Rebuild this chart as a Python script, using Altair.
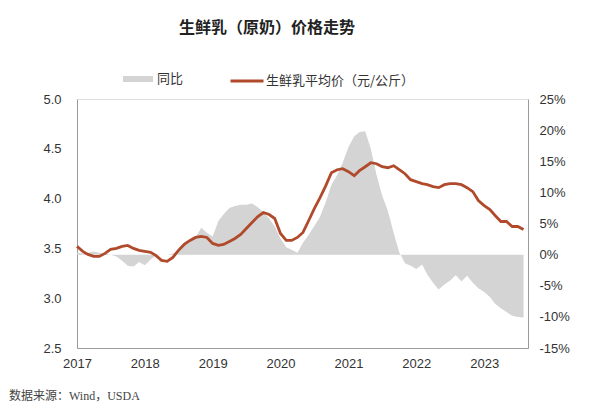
import altair as alt
import pandas as pd

title_text = "生鲜乳（原奶）价格走势"
source_text = "数据来源：Wind，USDA"
yoy_name = "同比"
price_name = "生鲜乳平均价（元/公斤）"

start_month = "2017-01-01"
n_months = 80

# 生鲜乳平均价（元/公斤），monthly from Jan 2017
price = [3.52, 3.47, 3.44, 3.42, 3.42, 3.45, 3.49, 3.50, 3.52, 3.53, 3.50, 3.48,
         3.47, 3.46, 3.43, 3.38, 3.37, 3.41, 3.48, 3.54, 3.58, 3.61, 3.62, 3.61,
         3.55, 3.53, 3.54, 3.57, 3.60, 3.64, 3.70, 3.76, 3.82, 3.86, 3.84, 3.80,
         3.65, 3.58, 3.58, 3.61, 3.66, 3.78, 3.90, 4.01, 4.13, 4.26, 4.29, 4.30,
         4.27, 4.23, 4.28, 4.32, 4.36, 4.35, 4.32, 4.31, 4.33, 4.29, 4.25, 4.19,
         4.17, 4.15, 4.14, 4.12, 4.11, 4.14, 4.15, 4.15, 4.14, 4.11, 4.07, 3.98,
         3.93, 3.89, 3.83, 3.77, 3.77, 3.72, 3.72, 3.69]

# 同比 (%), monthly from Jan 2017
yoy = [0.3, 0.2, 0.3, 0.5, 0.3, 0.2, 0.0, -0.3, -1.0, -1.8, -1.9, -1.2,
       -1.7, -0.8, -0.2, 0.0, 0.0, 0.2, 0.6, 1.4, 2.2, 2.8, 4.3, 3.5,
       2.9, 5.4, 6.5, 7.5, 7.8, 8.0, 8.0, 8.2, 7.6, 6.8, 5.8, 4.5,
       2.6, 1.2, 0.8, 0.3, 1.9, 3.2, 4.6, 6.1, 8.5, 11.2, 12.8, 14.8,
       17.3, 19.0, 19.7, 19.8, 17.0, 12.8, 9.5, 7.0, 3.5, 0.4, -1.4, -1.8,
       -2.3, -1.6, -3.2, -4.5, -5.6, -4.8, -4.2, -3.3, -4.3, -3.4, -4.5, -5.4,
       -6.0, -6.8, -7.9, -8.6, -9.2, -9.8, -10.0, -10.1]

years = [2017, 2018, 2019, 2020, 2021, 2022, 2023]
left_ticks = [2.5, 3.0, 3.5, 4.0, 4.5, 5.0]
right_ticks = [-15, -10, -5, 0, 5, 10, 15, 20, 25]

df = pd.DataFrame({
    "date": pd.date_range(start_month, periods=n_months, freq="MS"),
    "price": price,
    "yoy": yoy,
    "s": yoy_name,
    "s2": price_name,
})

LAT = "Liberation Sans"
CJK = "Noto Sans CJK SC"
AX = "#9a9a9a"
TXT = "#333333"

xenc = alt.X(
    "date:T",
    scale=alt.Scale(domain=["2017-01-01", "2023-08-25"]),
    axis=alt.Axis(
        title=None, values=[alt.DateTime(year=y, month=1, date=1) for y in years],
        format="%Y", grid=False, ticks=False, labelPadding=9,
        domainColor=AX, labelFont=LAT, labelFontSize=13, labelColor=TXT,
        labelFlush=False,
    ),
)

area = alt.Chart(df).mark_area(opacity=1).encode(
    x=xenc,
    y=alt.Y(
        "yoy:Q", stack=None,
        scale=alt.Scale(domain=[-15, 25], nice=False, zero=False),
        axis=alt.Axis(
            orient="right", title=None, values=right_ticks,
            labelExpr="datum.value + '%'", grid=False, ticks=False,
            labelPadding=11, domainColor=AX, labelFont=LAT, labelFontSize=13,
            labelColor=TXT,
        ),
    ),
    y2=alt.datum(0),
    color=alt.Color(
        "s:N",
        scale=alt.Scale(domain=[yoy_name], range=["#d4d4d4"]),
        legend=alt.Legend(
            title=None, orient="none", legendX=46, legendY=-35,
            symbolType="M-1,-0.2H1V0.2H-1Z", symbolSize=900,
            symbolStrokeWidth=0, symbolOpacity=1,
            labelFont=CJK, labelFontSize=13, labelColor=TXT, labelOffset=4,
            padding=0,
        ),
    ),
)

line = alt.Chart(df).mark_line(strokeWidth=2.8).encode(
    x=xenc,
    y=alt.Y(
        "price:Q",
        scale=alt.Scale(domain=[2.5, 5.0], nice=False, zero=False),
        axis=alt.Axis(
            orient="left", title=None, values=left_ticks, format=".1f",
            grid=False, ticks=False, labelPadding=16, domainColor=AX,
            labelFont=LAT, labelFontSize=13, labelColor=TXT,
        ),
    ),
    stroke=alt.Stroke(
        "s2:N",
        scale=alt.Scale(domain=[price_name], range=["#b04a2b"]),
        legend=alt.Legend(
            title=None, orient="none", legendX=152, legendY=-36,
            symbolType="stroke", symbolSize=1089, symbolStrokeWidth=3,
            labelFont=CJK, labelFontSize=13, labelColor=TXT, labelOffset=1,
            padding=0,
        ),
    ),
)

title = alt.Chart(pd.DataFrame({"t": [title_text]})).mark_text(
    font=CJK, fontSize=16, fontWeight="bold", color="#222222",
    align="center", baseline="middle",
).encode(text="t:N", x=alt.value(190), y=alt.value(-71))

source = alt.Chart(pd.DataFrame({"t": [source_text]})).mark_text(
    font="Liberation Serif, " + CJK, fontSize=12, color="#444444",
    align="left", baseline="middle",
).encode(text="t:N", x=alt.value(-68), y=alt.value(297))

chart = alt.layer(area, line, title, source).resolve_scale(
    y="independent"
).properties(
    width=451, height=249,
    autosize=alt.AutoSizeParams(type="none"),
    padding={"left": 69, "top": 91, "right": 64, "bottom": 58},
).configure_view(stroke=None).configure(background="white")

chart.save("out.html", embed_options={"renderer": "svg", "actions": False})
